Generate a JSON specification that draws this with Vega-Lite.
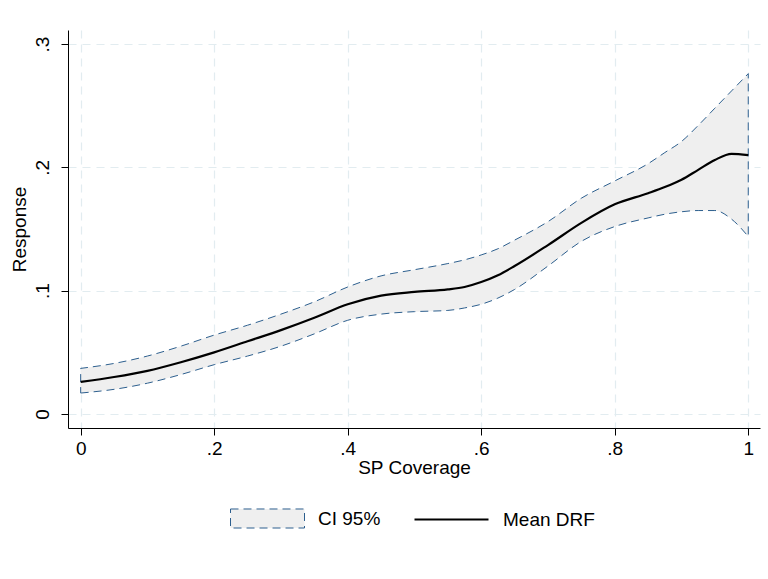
{
  "$schema": "https://vega.github.io/schema/vega-lite/v6.json",
  "width": 692,
  "height": 398,
  "autosize": {"type": "none"},
  "padding": {"left": 68, "top": 30, "right": 8, "bottom": 151},
  "background": "white",
  "config": {
    "view": {"stroke": null},
    "font": "Liberation Sans",
    "axis": {
      "domainColor": "#000000",
      "domainWidth": 1,
      "tickColor": "#000000",
      "tickWidth": 1,
      "tickSize": 7,
      "labelFont": "Liberation Sans",
      "labelFontSize": 19,
      "labelColor": "#000000",
      "titleFont": "Liberation Sans",
      "titleFontSize": 19,
      "titleFontWeight": "normal",
      "titleColor": "#000000",
      "grid": true,
      "gridColor": "#e2ecf0",
      "gridDash": [8, 6],
      "gridWidth": 1.2
    },
    "legend": {
      "labelFont": "Liberation Sans",
      "labelFontSize": 19,
      "labelColor": "#000000",
      "padding": 0
    }
  },
  "data": {
    "values": [
      {"x": 0.0, "mean": 0.026, "lo": 0.017, "hi": 0.037},
      {"x": 0.05, "mean": 0.030, "lo": 0.020, "hi": 0.041},
      {"x": 0.1, "mean": 0.035, "lo": 0.025, "hi": 0.047},
      {"x": 0.15, "mean": 0.042, "lo": 0.032, "hi": 0.055},
      {"x": 0.2, "mean": 0.050, "lo": 0.040, "hi": 0.064},
      {"x": 0.25, "mean": 0.059, "lo": 0.047, "hi": 0.072},
      {"x": 0.3, "mean": 0.068, "lo": 0.055, "hi": 0.081},
      {"x": 0.35, "mean": 0.078, "lo": 0.065, "hi": 0.091},
      {"x": 0.4, "mean": 0.089, "lo": 0.076, "hi": 0.103},
      {"x": 0.45, "mean": 0.096, "lo": 0.081, "hi": 0.112},
      {"x": 0.5, "mean": 0.099, "lo": 0.083, "hi": 0.117},
      {"x": 0.55, "mean": 0.101, "lo": 0.084, "hi": 0.122},
      {"x": 0.575, "mean": 0.103, "lo": 0.086, "hi": 0.125},
      {"x": 0.6, "mean": 0.107, "lo": 0.089, "hi": 0.129},
      {"x": 0.625, "mean": 0.1125, "lo": 0.094, "hi": 0.134},
      {"x": 0.65, "mean": 0.120, "lo": 0.101, "hi": 0.141},
      {"x": 0.7, "mean": 0.137, "lo": 0.120, "hi": 0.156},
      {"x": 0.75, "mean": 0.155, "lo": 0.140, "hi": 0.175},
      {"x": 0.8, "mean": 0.170, "lo": 0.152, "hi": 0.189},
      {"x": 0.85, "mean": 0.179, "lo": 0.159, "hi": 0.203},
      {"x": 0.875, "mean": 0.184, "lo": 0.162, "hi": 0.212},
      {"x": 0.9, "mean": 0.190, "lo": 0.164, "hi": 0.221},
      {"x": 0.925, "mean": 0.198, "lo": 0.165, "hi": 0.234},
      {"x": 0.95, "mean": 0.206, "lo": 0.165, "hi": 0.248},
      {"x": 0.975, "mean": 0.211, "lo": 0.158, "hi": 0.262},
      {"x": 1.0, "mean": 0.210, "lo": 0.144, "hi": 0.276}
    ]
  },
  "layer": [
    {
      "mark": {
        "type": "area",
        "interpolate": "monotone",
        "stroke": "#2d5f8e",
        "strokeWidth": 1,
        "strokeDash": [8, 5]
      },
      "encoding": {
        "x": {
          "field": "x",
          "type": "quantitative",
          "scale": {"domain": [-0.019, 1.0176], "nice": false, "zero": false},
          "axis": {
            "title": "SP Coverage",
            "values": [0, 0.2, 0.4, 0.6, 0.8, 1],
            "labelExpr": "datum.value == 0 ? '0' : datum.value == 1 ? '1' : replace(format(datum.value, '.1f'), '0.', '.')",
            "labelPadding": 4,
            "titlePadding": 0
          }
        },
        "y": {
          "field": "lo",
          "type": "quantitative",
          "scale": {"domain": [-0.01135, 0.3114], "nice": false, "zero": false},
          "axis": {
            "title": "Response",
            "values": [0, 0.1, 0.2, 0.3],
            "labelExpr": "datum.value == 0 ? '0' : replace(format(datum.value, '.1f'), '0.', '.')",
            "labelAngle": 270,
            "labelAlign": "center",
            "labelBaseline": "bottom",
            "labelPadding": 9,
            "titlePadding": 4
          }
        },
        "y2": {"field": "hi"},
        "fill": {
          "datum": "CI 95%",
          "type": "nominal",
          "scale": {"range": ["#efefef"]},
          "legend": {
            "title": null,
            "orient": "none",
            "legendX": 162,
            "legendY": 451,
            "symbolType": "M-1,-0.257H1V0.257H-1Z",
            "symbolSize": 5476,
            "symbolStrokeColor": "#2d5f8e",
            "symbolStrokeWidth": 1,
            "symbolDash": [8, 5],
            "symbolFillColor": "#efefef",
            "labelOffset": 13
          }
        }
      }
    },
    {
      "mark": {
        "type": "line",
        "interpolate": "monotone",
        "strokeWidth": 2.2
      },
      "encoding": {
        "x": {"field": "x", "type": "quantitative"},
        "y": {"field": "mean", "type": "quantitative"},
        "stroke": {
          "datum": "Mean DRF",
          "type": "nominal",
          "scale": {"range": ["#000000"]},
          "legend": {
            "title": null,
            "orient": "none",
            "legendX": 345,
            "legendY": 451,
            "symbolType": "stroke",
            "symbolSize": 5476,
            "symbolStrokeWidth": 2.2,
            "labelOffset": 13
          }
        }
      }
    }
  ]
}
